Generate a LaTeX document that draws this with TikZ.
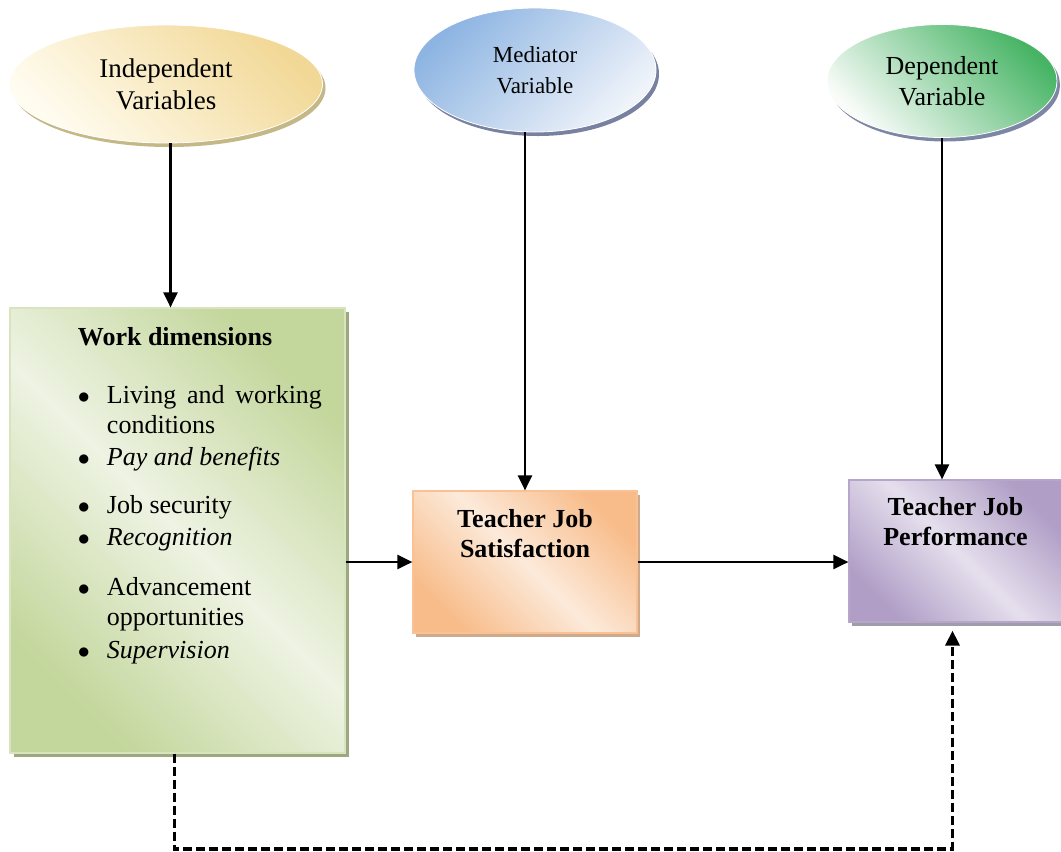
\documentclass[tikz,border=0pt]{standalone}
\usepackage{fontspec}
\setmainfont{Liberation Serif}
\usetikzlibrary{arrows.meta,shapes.geometric,shadows}

\definecolor{indDark}{RGB}{242,216,150}
\definecolor{indLight}{RGB}{255,252,240}
\definecolor{indShadow}{RGB}{196,184,135}
\definecolor{medDark}{RGB}{141,180,226}
\definecolor{medLight}{RGB}{240,244,250}
\definecolor{medShadow}{RGB}{120,130,160}
\definecolor{depDark}{RGB}{70,180,100}
\definecolor{depLight}{RGB}{250,252,250}
\definecolor{depShadow}{RGB}{125,135,165}
\definecolor{wdDark}{RGB}{195,214,155}
\definecolor{wdLight}{RGB}{238,243,227}
\definecolor{wdBorder}{RGB}{215,228,190}
\definecolor{wdShadow}{RGB}{158,168,128}
\definecolor{tjsDark}{RGB}{248,188,138}
\definecolor{tjsLight}{RGB}{252,234,218}
\definecolor{tjsBorder}{RGB}{250,194,148}
\definecolor{tjsShadow}{RGB}{205,170,140}
\definecolor{tjpDark}{RGB}{176,158,198}
\definecolor{tjpLight}{RGB}{229,223,237}
\definecolor{tjpBorder}{RGB}{182,166,202}
\definecolor{tjpShadow}{RGB}{160,156,172}

\newcommand{\wdbullet}{\leavevmode\llap{$\bullet$\hspace{8.5pt}}}

\tikzset{
    varellipse/.style={
        ellipse,
        inner sep=0pt,
        align=center,
        draw=white,
        line width=0.4pt},
    factorbox/.style={
        rectangle,
        inner sep=0pt,
        line width=0.6pt},
    link/.style={
        -{Triangle[length=7.5pt,width=7pt]},
        line width=1.2pt},
    feedback/.style={
        -{Triangle[length=7.5pt,width=7pt]},
        line width=1.7pt,
        dash pattern=on 4.5pt off 2pt}
}

\begin{document}
\begin{tikzpicture}[x=0.5pt,y=-0.5pt]
    \useasboundingbox (0,0) rectangle (1061,852);

    % variable ellipses
    \node[
        varellipse,
        minimum width=156.5pt,
        minimum height=59pt,
        top color=indDark,
        bottom color=indLight,
        shading angle=-45,
        drop shadow={shadow xshift=1.5pt,shadow yshift=-2pt,fill=indShadow,opacity=1},
        font={\fontsize{13.5}{16}\selectfont}]
        (ind) at (166,84) {Independent\\Variables};

    \node[
        varellipse,
        minimum width=121pt,
        minimum height=62pt,
        top color=medDark,
        bottom color=medLight,
        shading angle=45,
        drop shadow={shadow xshift=1.5pt,shadow yshift=-2pt,fill=medShadow,opacity=1},
        font={\fontsize{11.5}{15.5}\selectfont}]
        (med) at (535,70) {Mediator\\Variable};

    \node[
        varellipse,
        minimum width=115pt,
        minimum height=56.5pt,
        top color=depDark,
        bottom color=depLight,
        shading angle=-45,
        drop shadow={shadow xshift=1.5pt,shadow yshift=-2pt,fill=depShadow,opacity=1},
        font={\fontsize{13}{15.5}\selectfont}]
        (dep) at (942,81) {Dependent\\Variable};

    % factor boxes
    \node[
        factorbox,
        draw=wdBorder,
        top color=wdDark,
        bottom color=wdDark,
        middle color=wdLight,
        shading angle=-45,
        drop shadow={shadow xshift=2pt,shadow yshift=-2pt,fill=wdShadow,opacity=1},
        font={\fontsize{13}{15}\selectfont}]
        (wd) at (177.5,530.5) {\parbox[c][222.5pt][t]{167.5pt}{%
            \rule{0pt}{18.5pt}\hspace*{34pt}\textbf{Work dimensions}\par
            \vspace{14pt}
            \leftskip=48.5pt
            \wdbullet\makebox[107.5pt][s]{Living and working}\\
            conditions\\[1pt]
            \wdbullet\textit{Pay and benefits}\\[9pt]
            \wdbullet Job security\\[1pt]
            \wdbullet\textit{Recognition}\\[10pt]
            \wdbullet Advancement\\
            opportunities\\[1.5pt]
            \wdbullet\textit{Supervision}\par}};

    \node[
        factorbox,
        draw=tjsBorder,
        top color=tjsDark,
        bottom color=tjsDark,
        middle color=tjsLight,
        shading angle=-45,
        drop shadow={shadow xshift=1.5pt,shadow yshift=-2pt,fill=tjsShadow,opacity=1},
        font={\fontsize{13}{15}\selectfont\bfseries}]
        (tjs) at (525,562) {\parbox[c][71pt][t]{112pt}{\centering
            \rule{0pt}{18pt}Teacher Job\\Satisfaction\par}};

    \node[
        factorbox,
        draw=tjpBorder,
        top color=tjpDark,
        bottom color=tjpDark,
        middle color=tjpLight,
        shading angle=-45,
        drop shadow={shadow xshift=1.5pt,shadow yshift=-2pt,fill=tjpShadow,opacity=1},
        font={\fontsize{13}{15}\selectfont\bfseries}]
        (tjp) at (955.5,551) {\parbox[c][71pt][t]{106.5pt}{\centering
            \rule{0pt}{17.5pt}Teacher Job\\Performance\par}};

    % connectors
    \draw[link] (ind.south -| wd.north) ++(-7,0) coordinate (indfoot) -- (indfoot |- wd.north);
    \draw[link] (med.south -| tjs.north) -- (tjs.north);
    \draw[link] (dep.south) -- (dep.south |- tjp.north);
    \draw[link] (tjs.west -| wd.east) -- (tjs.west);
    \draw[link] (tjs.east) -- (tjs.east -| tjp.west);

    \coordinate (loop) at (0,849);
    \draw[feedback] ([xshift=-1.5pt]wd.south) -- ([xshift=-1.5pt]wd.south |- loop)
        -- ([xshift=-1.5pt]tjp.south |- loop) -- ([xshift=-1.5pt,yshift=-4pt]tjp.south);
\end{tikzpicture}
\end{document}
